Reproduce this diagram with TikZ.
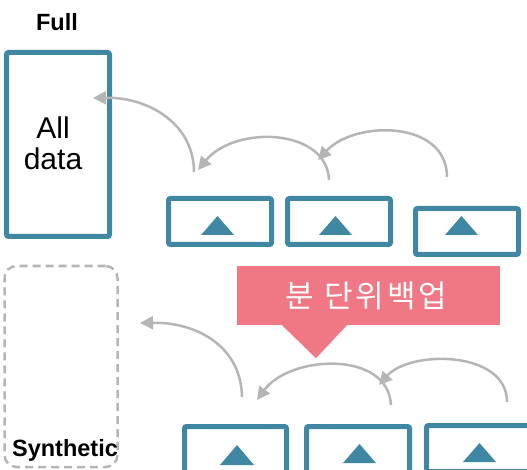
\documentclass[tikz,border=0pt]{standalone}
\usepackage{fontspec}
\setmainfont{Liberation Sans}
\newfontfamily\krfont[LetterSpace=10]{Noto Sans CJK KR}
\usetikzlibrary{arrows.meta}
\definecolor{tealc}{HTML}{3F87A3}
\definecolor{grayc}{HTML}{B5B5B5}
\definecolor{pinkc}{HTML}{F07784}
\begin{document}
\begin{tikzpicture}[x=1pt,y=-1pt,
  boxst/.style={draw=tealc,line width=5pt,rounded corners=2pt,inner sep=0pt,minimum width=103pt,minimum height=46pt},
  arr/.style={draw=grayc,line width=2.5pt,-{Triangle[length=13pt,width=13pt]}},
  lbl/.style={inner sep=0pt,font=\bfseries\fontsize{23.5}{26}\selectfont},
]
\useasboundingbox (0,0) rectangle (527,470);
\clip (0,0) rectangle (527,470);

% Full
\node[lbl] (fulllbl) at (57,22) {Full};
\node[boxst,minimum width=103pt,minimum height=184pt] (full) at (58,144.5) {};
\node[inner sep=0pt,align=center,font=\fontsize{30}{31}\selectfont] (alldata) at (53,143) {All\\data};

% top boxes
\node[boxst] (b1) at (220,221.5) {};
\node[boxst] (b2) at (339,221.5) {};
\node[boxst] (b3) at (467,231.5) {};
\fill[tealc] ([shift={(-19,13.5)}]b1.center) -- ++(33,0) -- ++(-16.5,-19) -- cycle;
\fill[tealc] ([shift={(-20,13.5)}]b2.center) -- ++(33,0) -- ++(-16.5,-19) -- cycle;
\fill[tealc] ([shift={(-22,3.5)}]b3.center) -- ++(33,0) -- ++(-16.5,-19) -- cycle;

% top arrows
\coordinate (s1) at (194,172); \coordinate (t1) at (93,98);
\coordinate (s2) at (329,180); \coordinate (t2) at (198,170);
\coordinate (s3) at (447,177); \coordinate (t3) at (318,160);
\draw[arr] (s1) .. controls (194,125) and (150,97) .. (t1);
\draw[arr] (s2) .. controls (327,128) and (235,125) .. (t2);
\draw[arr] (s3) .. controls (447,120) and (355,120) .. (t3);

% synthetic
\node[draw=grayc,dash pattern=on 8pt off 5pt,line width=2.5pt,rounded corners=12pt,inner sep=0pt,minimum width=113pt,minimum height=201pt] (synth) at (61,366.5) {};
\node[lbl] (synthlbl) at (65,450) {Synthetic};

% callout
\node[fill=pinkc,inner sep=0pt,minimum width=263pt,minimum height=59pt,text=white,font=\krfont\fontsize{31}{33}\selectfont] (callout) at (368.5,295.5) {\hspace*{-4pt}분 단위백업};
\fill[pinkc] ([xshift=-86.5]callout.south) -- ([xshift=-21.5]callout.south) -- ([shift={(-52.5,33)}]callout.south) -- cycle;

% bottom boxes
\node[boxst,minimum width=102pt] (b4) at (235.5,449.5) {};
\node[boxst] (b5) at (358,449.5) {};
\node[boxst] (b6) at (478,448.5) {};
\fill[tealc] ([shift={(-15.5,15.5)}]b4.center) -- ++(34,0) -- ++(-17,-20) -- cycle;
\fill[tealc] ([shift={(-15,13.5)}]b5.center) -- ++(33,0) -- ++(-16.5,-19) -- cycle;
\fill[tealc] ([shift={(-15,13.5)}]b6.center) -- ++(33,0) -- ++(-16.5,-19) -- cycle;

% bottom arrows
\coordinate (s4) at (242,397); \coordinate (t4) at (140,323);
\coordinate (s5) at (391,405); \coordinate (t5) at (257,400);
\coordinate (s6) at (507,402); \coordinate (t6) at (379,385);
\draw[arr] (s4) .. controls (241,345) and (195,322) .. (t4);
\draw[arr] (s5) .. controls (388,350) and (290,355) .. (t5);
\draw[arr] (s6) .. controls (507,350) and (410,350) .. (t6);
\end{tikzpicture}
\end{document}
